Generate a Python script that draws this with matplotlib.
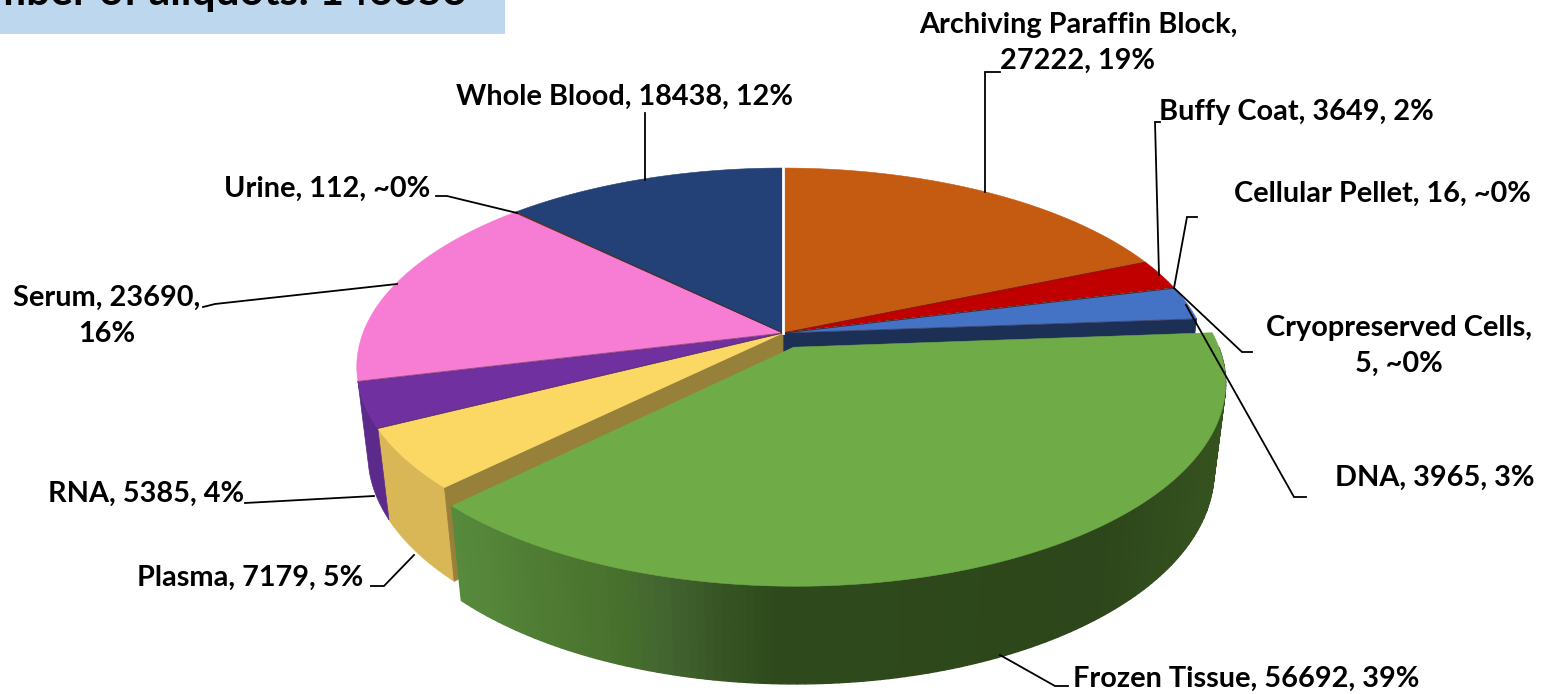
import numpy as np
import matplotlib
matplotlib.use('Agg')
import matplotlib.pyplot as plt
from matplotlib.colors import to_rgb

plt.rcParams['font.family'] = ['Lato', 'DejaVu Sans']

categories = ['Archiving Paraffin Block', 'Buffy Coat', 'Cellular Pellet', 'Cryopreserved Cells', 'DNA',
              'Frozen Tissue', 'Plasma', 'RNA', 'Serum', 'Urine', 'Whole Blood']
values = [27222, 3649, 16, 5, 3965, 56692, 7179, 5385, 23690, 112, 18438]
percents = ['19%', '2%', '~0%', '~0%', '3%', '39%', '5%', '4%', '16%', '~0%', '12%']
top_colors = ['#C55A11', '#C00000', '#FFC000', '#A5A5A5', '#4472C4', '#6FAB47', '#FBD764', '#7030A0',
              '#F77DD4', '#843C0C', '#234177']
wall_colors = ['#8A3F0C', '#860000', '#B38600', '#737373', '#1C2F54', '#4E7A32', '#D9B756', '#5B2A8A',
               '#AD5796', '#5C2A08', '#1A2F54']
# outer wall of the frozen tissue slice, shading along x in pixels
shade_x = [455, 550, 620, 660, 720, 775, 1100, 1225]
shade_col = ['#578A3C', '#4E7A32', '#47702D', '#436530', '#375524', '#2E4A1C', '#2D461B', '#35531F']

title = 'Number of aliquots: 146353'

# text position, alignment, line break after the name or the number
label_pos = [(1078, 43, 'center'), (1159, 112, 'left'), (1234, 194, 'left'), (1399, 346, 'center'),
             (1335, 478, 'left'), (1073, 679, 'left'), (137, 578, 'left'), (48, 494, 'left'),
             (107, 316, 'center'), (224, 189, 'left'), (456, 97, 'left')]
breaks = [1, 0, 0, 1, 0, 0, 0, 0, 2, 0, 0]

leaders = [[(985, 192), (985, 72), (1000, 72)],
           [(1159, 275), (1155, 122), (1160, 122)],
           [(1174, 288), (1187, 217), (1197, 217)],
           [(1174, 288), (1242, 352), (1252, 352)],
           [(1186, 305), (1294, 497), (1306, 497)],
           [(1000, 655), (1055, 686), (1068, 686)],
           [(414, 555), (384, 586), (371, 586)],
           [(374, 496), (245, 503)],
           [(397, 284), (215, 304), (203, 307)],
           [(517, 213), (447, 196), (436, 196)],
           [(645, 180), (645, 113)]]

# projection of the tilted pie onto the picture
CX, CY = 783, 333
F, G, K, H, C = 420, 193, 0.17, 89, 0.026
EXPLODE = 0.08
FROZEN = categories.index('Frozen Tissue')


def project(u, v, z=0):
    w = 1 + K * v + C * z
    return CX + F * u / w, CY + (-G * v + H * z) / w


def rim(a0, a1, off=(0, 0), z=0, n=80):
    t = np.radians(np.linspace(a0, a1, n))
    return project(np.sin(t) + off[0], np.cos(t) + off[1], z)


def shade(x):
    rgb = np.array([to_rgb(c) for c in shade_col])
    return [np.interp(x, shade_x, rgb[:, i]) for i in range(3)]


fig = plt.figure(figsize=(15.54, 6.94), dpi=100)
ax = fig.add_axes([0, 0, 1, 1])
ax.set_xlim(0, 1554)
ax.set_ylim(694, 0)
ax.axis('off')

# title box, the top of it is cut by the picture
ax.fill_between([0, 505], 0, 34, color='#BDD7EE', lw=0)
ax.text(467, 5, title, fontsize=30.5, fontweight='bold', ha='right', va='baseline', color='black')

vals = np.array(values, dtype=float)
edges = np.concatenate([[0], np.cumsum(vals)]) / vals.sum() * 360
mid = np.radians((edges[FROZEN] + edges[FROZEN + 1]) / 2)
off = (0.75 * EXPLODE * np.sin(mid), EXPLODE * np.cos(mid))

# outer walls behind the exploded slice
for i in range(len(vals)):
    if i == FROZEN:
        continue
    a0, a1 = max(edges[i], 90), min(edges[i + 1], edges[FROZEN + 3])
    if a1 <= a0:
        continue
    xt, yt = rim(a0, a1)
    xb, yb = rim(a0, a1, z=1)
    ax.fill(np.r_[xt, xb[::-1]], np.r_[yt, yb[::-1]], color=wall_colors[i], lw=0.5, zorder=2)

# walls opened up by pulling the slice out
for a, col in [(edges[FROZEN], wall_colors[FROZEN - 1]), (edges[FROZEN + 1], '#97803A')]:
    t = np.radians(a)
    xa, ya = project(np.array([0, np.sin(t)]), np.array([0, np.cos(t)]))
    xb, yb = project(np.array([np.sin(t), 0]), np.array([np.cos(t), 0]), 1)
    ax.fill(np.r_[xa, xb], np.r_[ya, yb], color=col, lw=0.5, zorder=3)

# top faces
for i in range(len(vals)):
    if i == FROZEN:
        continue
    xt, yt = rim(edges[i], edges[i + 1])
    ax.fill(np.r_[CX, xt], np.r_[CY, yt], color=top_colors[i], lw=0.4, zorder=4)
    ax.plot([CX, xt[-1]], [CY, yt[-1]], color='#402020', alpha=0.45, lw=0.7, zorder=5)

# white seam at twelve o'clock
xs, ys = rim(0, 0, n=1)
ax.plot([CX, xs[0]], [CY, ys[0]], color='white', lw=2, zorder=5)

# exploded slice
n_seg = 140
angs = np.linspace(max(edges[FROZEN], 90), edges[FROZEN + 1], n_seg + 1)
for j in range(n_seg):
    xt, yt = rim(angs[j], angs[j + 1], off, n=2)
    xb, yb = rim(angs[j], angs[j + 1], off, z=1, n=2)
    ax.fill(np.r_[xt, xb[::-1]], np.r_[yt, yb[::-1]], color=shade(xt.mean()), lw=1.0, zorder=6)
xt, yt = rim(edges[FROZEN], edges[FROZEN + 1], off, n=200)
xa, ya = project(off[0], off[1])
ax.fill(np.r_[xa, xt], np.r_[ya, yt], color=top_colors[FROZEN], lw=0.4, zorder=7)

# leader lines and labels
for pts in leaders:
    ax.plot([p[0] for p in pts], [p[1] for p in pts], color='black', lw=1.3, zorder=8,
            solid_joinstyle='miter')
seps = {0: (', ', ', '), 1: (',\n', ', '), 2: (', ', ',\n')}
for name, val, pct, pos, br in zip(categories, values, percents, label_pos, breaks):
    a, b = seps[br]
    ax.text(pos[0], pos[1], f'{name}{a}{val}{b}{pct}', fontsize=20.8, fontweight='bold', ha=pos[2],
            va='center', color='black', zorder=9, linespacing=1.45)

fig.savefig('out.png', dpi=100)
